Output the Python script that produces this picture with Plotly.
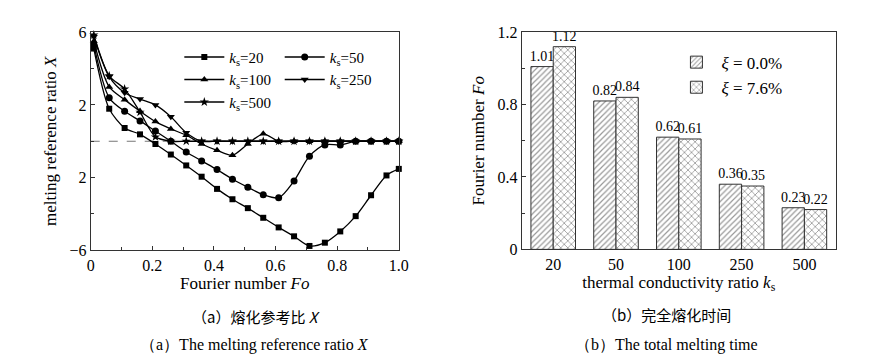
import plotly.graph_objects as go

# ---------------- data ----------------
fo = [0.01, 0.06, 0.11, 0.16, 0.21, 0.26, 0.31, 0.36, 0.41, 0.46, 0.51,
      0.56, 0.61, 0.66, 0.71, 0.76, 0.81, 0.86, 0.91, 0.96, 1.00]
# melting reference ratio X, plotted as exponent (log10 X)
x_ks20 = [5.1, 1.79, 0.73, 0.38, -0.15, -0.73, -1.33, -1.95, -2.62, -3.19, -3.68,
          -4.21, -4.74, -5.23, -5.76, -5.58, -4.96, -4.12, -2.97, -1.88, -1.52]
x_ks50 = [5.3, 2.39, 1.65, 1.12, 0.56, 0.0, -0.59, -1.08, -1.56, -2.09, -2.53,
          -2.94, -3.11, -2.18, -0.82, -0.2, -0.2, 0.0, 0.0, 0.0, 0.0]
x_ks100 = [5.5, 2.99, 2.29, 1.65, 1.08, 0.68, 0.33, -0.15, -0.5, -0.77, -0.15,
           0.41, 0.0, 0.0, 0.0, 0.0, 0.0, 0.0, 0.0, 0.0, 0.0]
x_ks250 = [5.75, 3.55, 2.67, 2.32, 2.0, 1.35, 0.47, 0.0, 0.0, 0.0, 0.0,
           0.0, 0.0, 0.0, 0.0, 0.0, 0.0, 0.0, 0.0, 0.0, 0.0]
x_ks500 = [5.85, 3.6, 2.88, 1.6, 0.24, 0.0, 0.0, 0.0, 0.0, 0.0, 0.0,
           0.0, 0.0, 0.0, 0.0, 0.0, 0.0, 0.0, 0.0, 0.0, 0.0]
left_ytick_vals = [6, 2, -2, -6]
left_ytick_text = ["6", "2", "2", "\u22126"]

ks_cats = ["20", "50", "100", "250", "500"]
fo_xi0 = [1.01, 0.82, 0.62, 0.36, 0.23]
fo_xi76 = [1.12, 0.84, 0.61, 0.35, 0.22]

FONT = "Liberation Serif"
CJK = "Noto Sans CJK SC"
W, H = 887, 358

fig = go.Figure()

series = [
    ("<i>k</i><sub>s</sub>=20", x_ks20, "square", 6, "legend"),
    ("<i>k</i><sub>s</sub>=50", x_ks50, "circle", 7, "legend2"),
    ("<i>k</i><sub>s</sub>=100", x_ks100, "triangle-up", 7, "legend"),
    ("<i>k</i><sub>s</sub>=250", x_ks250, "triangle-down", 7, "legend2"),
    ("<i>k</i><sub>s</sub>=500", x_ks500, "star", 7, "legend"),
]
for name, ys, sym, sz, lg in series:
    fig.add_trace(go.Scatter(
        x=fo, y=ys, name=name, mode="lines+markers",
        line=dict(color="black", width=1.3, shape="spline", smoothing=0.8),
        marker=dict(symbol=sym, size=sz, color="black"),
        xaxis="x", yaxis="y", legend=lg, cliponaxis=False,
    ))

barfont = dict(family=FONT, size=14, color="black")
fig.add_trace(go.Bar(
    x=ks_cats, y=fo_xi0, name="<i>\u03be</i> = 0.0%",
    marker=dict(color="white", line=dict(color="#333", width=1),
                pattern=dict(shape="/", size=4, solidity=0.3, fgcolor="#333", bgcolor="white")),
    text=[f"{v:.2f}" for v in fo_xi0], textposition="outside", constraintext="none",
    textfont=barfont, outsidetextfont=barfont,
    xaxis="x2", yaxis="y2", legend="legend3", cliponaxis=False,
))
fig.add_trace(go.Bar(
    x=ks_cats, y=fo_xi76, name="<i>\u03be</i> = 7.6%",
    marker=dict(color="white", line=dict(color="#333", width=1),
                pattern=dict(shape="x", size=5, solidity=0.3, fgcolor="#333", bgcolor="white")),
    text=[f"{v:.2f}" for v in fo_xi76], textposition="outside", constraintext="none",
    textfont=barfont, outsidetextfont=barfont,
    xaxis="x2", yaxis="y2", legend="legend3", cliponaxis=False,
))

# reference dashed line at X = 1 (exponent 0)
fig.add_shape(type="line", xref="x", yref="y", x0=0, x1=1, y0=0, y1=0,
              line=dict(color="#777", width=1, dash="dash"), layer="below")

tickfont = dict(family=FONT, size=16, color="black")
titlefont = dict(family=FONT, size=17, color="black")
common = dict(showline=True, linecolor="#333", linewidth=1, mirror=True,
              ticks="inside", ticklen=4, tickcolor="#333", showgrid=False,
              zeroline=False, tickfont=tickfont)

y_top, y_bot = 1 - 17 / H, 1 - 246 / H
fig.update_layout(
    width=W, height=H, margin=dict(l=0, r=0, t=0, b=0),
    paper_bgcolor="white", plot_bgcolor="white",
    font=dict(family=FONT, color="black"),
    showlegend=True,
    barmode="group", bargap=0.29, bargroupgap=0,
    xaxis=dict(domain=[80 / W, 393 / W], range=[0, 1.0],
               tickvals=[0, 0.2, 0.4, 0.6, 0.8, 1.0],
               ticktext=["0", "0.2", "0.4", "0.6", "0.8", "1.0"],
               minor=dict(tickvals=[0.1, 0.3, 0.5, 0.7, 0.9], ticks="inside", ticklen=3, tickcolor="#333"),
               title=dict(text="Fourier number <i>Fo</i>", font=titlefont, standoff=0),
               anchor="y", **common),
    yaxis=dict(domain=[y_bot, y_top], range=[-6, 6],
               tickvals=left_ytick_vals, ticktext=left_ytick_text,
               minor=dict(tickvals=[4, 0, -4], ticks="inside", ticklen=3, tickcolor="#333"),
               title=dict(text="melting reference ratio <i>X</i>", font=titlefont, standoff=8),
               anchor="x", **common),
    xaxis2=dict(domain=[518 / W, 837 / W], range=[-0.5, 4.5], type="category",
                title=dict(text="thermal conductivity ratio <i>k</i><sub>s</sub>", font=titlefont, standoff=0),
                anchor="y2", showline=True, linecolor="#333", linewidth=1, mirror=True,
                ticks="", showgrid=False, zeroline=False, tickfont=tickfont),
    yaxis2=dict(domain=[1 - 245 / H, y_top], range=[0, 1.2],
                tickvals=[0, 0.4, 0.8, 1.2], ticktext=["0", "0.4", "0.8", "1.2"],
                minor=dict(tickvals=[0.2, 0.6, 1.0], ticks="inside", ticklen=3, tickcolor="#333"),
                title=dict(text="Fourier number <i>Fo</i>", font=titlefont, standoff=8),
                anchor="x2", **common),
    legend=dict(x=170 / W, y=1 - 26 / H, xanchor="left", yanchor="top",
                bgcolor="rgba(0,0,0,0)", font=dict(family=FONT, size=15),
                tracegroupgap=0, itemwidth=40),
    legend2=dict(x=272 / W, y=1 - 26 / H, xanchor="left", yanchor="top",
                 bgcolor="rgba(0,0,0,0)", font=dict(family=FONT, size=15),
                 tracegroupgap=0, itemwidth=40),
    legend3=dict(x=670 / W, y=1 - 30 / H, xanchor="left", yanchor="top",
                 bgcolor="rgba(0,0,0,0)", font=dict(family=FONT, size=17),
                 tracegroupgap=0, itemwidth=40),
)

captions = [
    (248, 315, "\uff08a\uff09熔化参考比 <i>X</i>", CJK, 15),
    (246, 345, "\uff08a\uff09The melting reference ratio <i>X</i>", FONT, 16),
    (665, 313, "\uff08b\uff09完全熔化时间", CJK, 15),
    (665, 345, "\uff08b\uff09The total melting time", FONT, 16),
]
for cx, cy, txt, fam, fs in captions:
    fig.add_annotation(x=cx / W, y=1 - cy / H, xref="paper", yref="paper",
                       text=txt, showarrow=False, xanchor="center", yanchor="middle",
                       font=dict(family=fam, size=fs, color="black"))

fig.write_html("out.html")
